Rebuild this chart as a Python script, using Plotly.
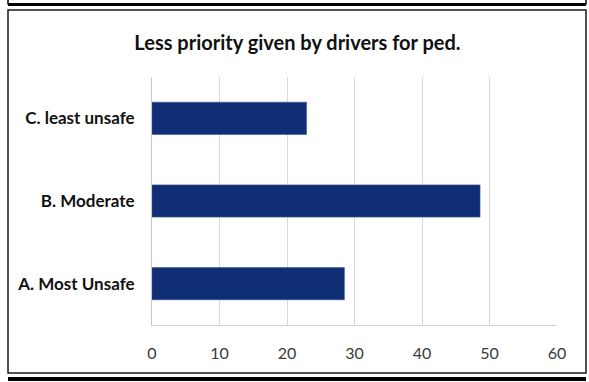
import plotly.graph_objects as go

# Survey responses: share of respondents (%) per rating
categories = ["A. Most Unsafe", "B. Moderate", "C. least unsafe"]
values = [28.5, 48.6, 22.9]
x_ticks = [0, 10, 20, 30, 40, 50, 60]
title_text = "Less priority given by drivers for ped."

W, H = 589, 382
L, R, T, B = 152, 32, 77, 57  # plot-area margins in px
pw, ph = W - L - R, H - T - B

def px_x(px):
    return (px - L) / pw

def px_y(py):
    return (H - B - py) / ph

navy = "#0f2e73"
font = "Lato"

fig = go.Figure(
    go.Bar(
        x=values,
        y=categories,
        orientation="h",
        marker=dict(color=navy, line=dict(color="#3a5596", width=0.6)),
        width=0.39,
        hoverinfo="x+y",
    )
)

fig.update_layout(
    width=W,
    height=H,
    margin=dict(l=L, r=R, t=T, b=B),
    paper_bgcolor="white",
    plot_bgcolor="white",
    showlegend=False,
    title=dict(
        text=title_text,
        x=297.5 / W,
        xanchor="center",
        y=1 - 43 / H,
        yanchor="middle",
        font=dict(family=font, size=20, color="#111111", weight="bold"),
    ),
    xaxis=dict(
        range=[0, 60],
        tickvals=x_ticks,
        ticktext=[str(v) for v in x_ticks],
        showgrid=True,
        gridcolor="#d9d9d9",
        gridwidth=1,
        zeroline=False,
        showline=True,
        linecolor="#d0d0d0",
        linewidth=1,
        ticks="outside",
        ticklen=14,
        tickcolor="rgba(0,0,0,0)",
        tickfont=dict(family=font, size=16, color="#3a3a3a"),
        fixedrange=True,
    ),
    yaxis=dict(
        type="category",
        categoryorder="array",
        categoryarray=categories,
        range=[-0.5, 2.5],
        showgrid=False,
        zeroline=False,
        showline=True,
        linecolor="#c8c8c8",
        linewidth=1,
        ticks="outside",
        ticklen=13,
        tickcolor="rgba(0,0,0,0)",
        tickfont=dict(family=font, size=17, color="#111111", weight="bold"),
        fixedrange=True,
    ),
    shapes=[
        # chart frame
        dict(type="rect", xref="paper", yref="paper",
             x0=px_x(8), x1=px_x(586), y0=px_y(373), y1=px_y(10),
             line=dict(color="#1a1a1a", width=1.5), layer="below"),
        # neighbouring frames above and below
        dict(type="line", xref="paper", yref="paper",
             x0=px_x(8), x1=px_x(586), y0=px_y(4.5), y1=px_y(4.5),
             line=dict(color="#000000", width=3)),
        dict(type="line", xref="paper", yref="paper",
             x0=px_x(8), x1=px_x(8), y0=px_y(-2), y1=px_y(4.5),
             line=dict(color="#000000", width=1.5)),
        dict(type="line", xref="paper", yref="paper",
             x0=px_x(586), x1=px_x(586), y0=px_y(-2), y1=px_y(4.5),
             line=dict(color="#000000", width=1.5)),
        dict(type="line", xref="paper", yref="paper",
             x0=px_x(8), x1=px_x(586), y0=px_y(379), y1=px_y(379),
             line=dict(color="#000000", width=4)),
    ],
)

fig.write_html("out.html")
